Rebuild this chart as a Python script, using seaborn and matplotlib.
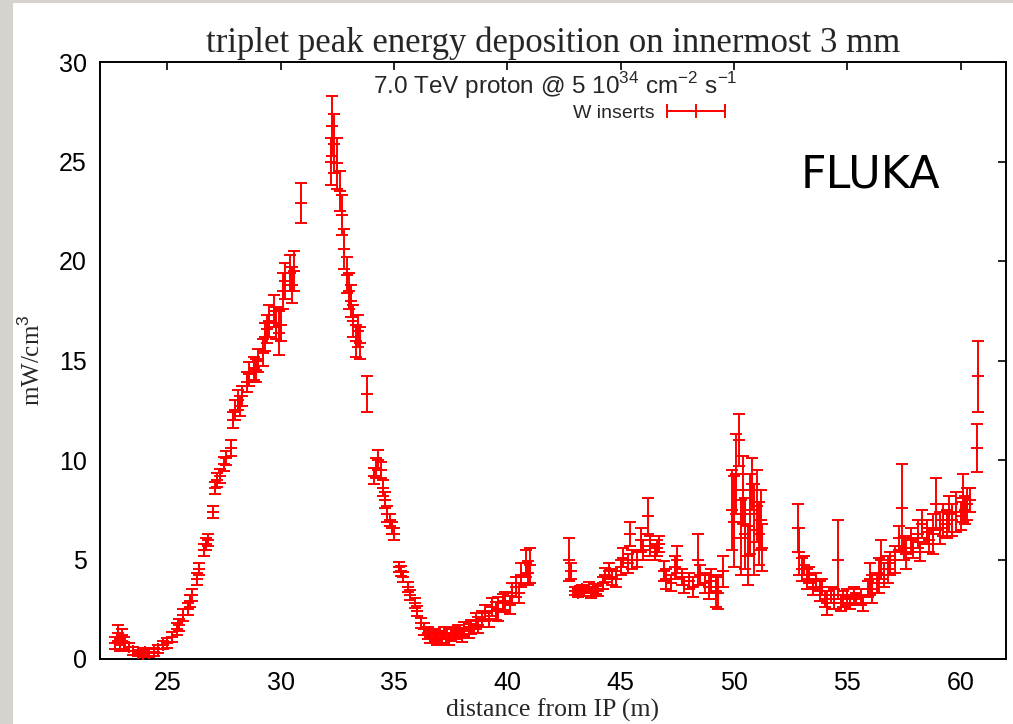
import numpy as np
import pandas as pd
import matplotlib
matplotlib.use("Agg")
import matplotlib.pyplot as plt
from matplotlib.lines import Line2D
from matplotlib.patches import Rectangle
import seaborn as sns

# ---------------- data ----------------
seg1_x = [22.7, 22.8, 22.9, 23.0, 23.1, 23.3, 23.5, 23.7, 23.9, 24.0, 24.2, 24.4, 24.6, 24.8,
          25.0, 25.2, 25.4, 25.5, 25.7, 25.9, 26.0, 26.1, 26.3, 26.4, 26.6, 26.7, 26.8, 27.0,
          27.1, 27.2, 27.3, 27.5, 27.6, 27.8, 27.9, 28.0, 28.1, 28.2, 28.3, 28.5, 28.6, 28.8,
          28.9, 29.0, 29.2, 29.3, 29.4, 29.5, 29.7, 29.8, 29.9, 30.0, 30.1, 30.2, 30.4, 30.5,
          30.6, 30.9,
          32.2, 32.25, 32.35, 32.5, 32.6, 32.7, 32.8, 32.9, 33.0, 33.1, 33.2, 33.3, 33.4, 33.5,
          33.8, 34.1, 34.2, 34.3, 34.4, 34.5, 34.6, 34.7, 34.8, 34.9, 35.0, 35.2, 35.3, 35.4,
          35.6, 35.7, 35.9, 36.0, 36.2, 36.3, 36.5, 36.6, 36.8, 36.9, 37.1, 37.2, 37.4, 37.5,
          37.7, 37.8, 38.0, 38.1, 38.3, 38.4, 38.6, 38.7, 38.9, 39.0, 39.2, 39.3, 39.5, 39.6,
          39.8, 39.9, 40.1, 40.2, 40.4, 40.5, 40.6, 40.8, 40.9, 41.0]
seg1_y = [0.8, 1.3, 0.7, 1.2, 0.8, 0.6, 0.4, 0.3, 0.25, 0.35, 0.3, 0.35, 0.5, 0.7,
          0.8, 1.1, 1.5, 1.7, 2.2, 2.5, 2.9, 3.2, 4.0, 4.5, 5.5, 5.8, 6.0, 7.4,
          8.6, 9.0, 9.2, 9.8, 10.1, 10.6, 12.0, 12.5, 13.0, 12.7, 13.2, 13.9, 14.3, 14.6,
          14.5, 15.0, 15.4, 16.2, 16.6, 17.0, 17.5, 16.9, 16.4, 16.8, 18.5, 19.0, 19.4, 18.8,
          19.5, 22.9,
          25.0, 26.8, 25.9, 24.9, 23.5, 22.3, 20.6, 19.3, 18.5, 18.0, 17.0, 16.0, 16.5, 15.9,
          13.3, 9.2, 9.6, 10.0, 9.5, 8.6, 8.0, 7.3, 7.0, 6.6, 6.3, 4.6, 4.4, 4.1,
          3.6, 3.2, 2.8, 2.4, 1.8, 1.5, 1.3, 1.1, 1.2, 1.0, 1.1, 1.3, 1.0, 1.2,
          1.3, 1.4, 1.2, 1.5, 1.4, 1.6, 1.9, 1.7, 2.0, 2.3, 2.0, 2.6, 2.4, 2.5,
          2.8, 2.9, 2.7, 3.3, 3.6, 3.3, 4.2, 4.8, 4.3, 4.7]
seg1_err = [0.3, 0.4, 0.3, 0.3, 0.3, 0.2, 0.2, 0.15, 0.15, 0.2, 0.2, 0.2, 0.2, 0.2,
            0.25, 0.25, 0.3, 0.3, 0.3, 0.3, 0.3, 0.3, 0.3, 0.3, 0.3, 0.3, 0.3, 0.3,
            0.3, 0.35, 0.35, 0.35, 0.35, 0.4, 0.4, 0.5, 0.5, 0.5, 0.5, 0.5, 0.6, 0.6,
            0.6, 0.6, 0.7, 0.7, 0.7, 0.8, 0.8, 0.8, 1.1, 0.8, 0.9, 0.9, 0.9, 0.9,
            1.0, 1.0,
            1.2, 1.5, 1.5, 1.3, 1.0, 1.0, 1.0, 0.9, 0.9, 0.8, 0.8, 0.8, 0.8, 0.8,
            0.9, 0.4, 0.5, 0.5, 0.4, 0.4, 0.4, 0.4, 0.3, 0.3, 0.3, 0.25, 0.25, 0.25,
            0.25, 0.25, 0.25, 0.25, 0.25, 0.3, 0.3, 0.3, 0.3, 0.3, 0.3, 0.3, 0.3, 0.3,
            0.3, 0.3, 0.35, 0.35, 0.35, 0.35, 0.4, 0.4, 0.4, 0.4, 0.4, 0.45, 0.45, 0.6,
            0.45, 0.45, 0.45, 0.5, 0.5, 0.5, 0.6, 0.7, 0.6, 0.9]

seg2_x = [42.7, 42.8, 43.0, 43.1, 43.3, 43.4, 43.6, 43.7, 43.9, 44.0, 44.2, 44.3, 44.5, 44.6,
          44.8, 45.0, 45.1, 45.3, 45.4, 45.5, 45.7, 45.9, 46.0, 46.2, 46.3, 46.5, 46.6, 46.7,
          46.9, 47.0, 47.2, 47.4, 47.5, 47.7, 47.8, 48.0, 48.2, 48.4, 48.5, 48.7, 48.9, 49.0,
          49.2, 49.3, 49.5, 49.9, 50.0, 50.1, 50.2, 50.3, 50.4, 50.5, 50.6, 50.7, 50.8, 50.9,
          51.0, 51.1, 51.2, 51.25]
seg2_y = [5.0, 4.4, 3.4, 3.3, 3.5, 3.4, 3.6, 3.3, 3.5, 3.4, 3.8, 4.2, 4.4, 4.1,
          4.0, 4.6, 5.1, 4.8, 6.3, 5.0, 5.0, 6.0, 5.5, 7.2, 5.7, 5.4, 5.6, 5.8,
          4.4, 4.0, 3.8, 4.6, 5.0, 4.1, 3.7, 3.9, 3.6, 5.0, 4.2, 3.8, 3.6, 3.9,
          3.4, 3.3, 4.4, 7.5, 6.9, 9.3, 11.0, 6.1, 8.5, 6.3, 5.2, 7.3, 8.8, 6.5,
          7.7, 6.3, 7.0, 5.6]
seg2_err = [1.1, 0.4, 0.2, 0.2, 0.2, 0.25, 0.25, 0.25, 0.25, 0.25, 0.3, 0.35, 0.4, 0.4,
            0.4, 0.4, 0.5, 0.5, 0.6, 0.5, 0.4, 0.6, 0.5, 0.9, 0.5, 0.4, 0.4, 0.4,
            0.5, 0.5, 0.4, 0.6, 0.7, 0.4, 0.4, 0.4, 0.5, 1.3, 0.5, 0.5, 0.6, 0.6,
            0.8, 0.8, 0.8, 2.0, 2.3, 2.0, 1.3, 1.9, 1.7, 1.8, 1.5, 2.0, 1.3, 2.3,
            1.8, 1.6, 1.5, 1.2]

seg3_x = [52.8, 52.85, 53.0, 53.1, 53.2, 53.3, 53.5, 53.6, 53.8, 53.9, 54.0, 54.1, 54.3, 54.4,
          54.6, 54.7, 54.8, 55.0, 55.1, 55.3, 55.4, 55.6, 55.7, 55.9, 56.0, 56.1, 56.3, 56.4,
          56.5, 56.6, 56.8, 56.9, 57.1, 57.3, 57.4, 57.5, 57.6, 57.8, 57.9, 58.1, 58.2, 58.3,
          58.5, 58.6, 58.8, 58.9, 59.1, 59.2, 59.4, 59.5, 59.6, 59.8, 60.0, 60.1, 60.2, 60.3,
          60.4, 60.7, 60.75]
seg3_y = [6.6, 5.4, 4.5, 4.7, 4.0, 4.2, 3.6, 3.9, 3.4, 3.6, 3.0, 2.8, 3.2, 3.0,
          5.0, 2.8, 3.0, 3.1, 2.8, 3.2, 3.0, 3.1, 2.8, 3.5, 4.0, 3.5, 3.8, 4.2,
          5.0, 4.2, 4.5, 4.8, 5.0, 6.1, 7.6, 5.6, 5.3, 6.0, 5.6, 6.3, 5.4, 6.8,
          6.4, 6.0, 6.3, 7.8, 6.6, 7.0, 6.8, 7.3, 7.0, 7.4, 7.2, 8.1, 7.5, 7.8,
          8.0, 10.6, 14.2]
seg3_err = [1.2, 1.2, 0.6, 0.5, 0.5, 0.4, 0.4, 0.4, 0.5, 0.4, 0.4, 0.6, 0.4, 0.5,
            2.0, 0.4, 0.4, 0.4, 0.3, 0.4, 0.3, 0.4, 0.4, 0.4, 0.8, 0.7, 0.5, 0.9,
            1.0, 0.6, 0.7, 0.6, 0.7, 0.6, 2.2, 0.6, 0.8, 0.6, 0.5, 0.7, 0.5, 0.7,
            0.6, 0.6, 1.0, 1.3, 0.8, 0.8, 0.7, 0.9, 0.8, 1.0, 0.7, 1.2, 0.7, 0.8,
            0.6, 1.2, 1.8]

x_ticks = [25, 30, 35, 40, 45, 50, 55, 60]
y_ticks = [0, 5, 10, 15, 20, 25, 30]

df = pd.DataFrame({
    "x": seg1_x + seg2_x + seg3_x,
    "y": seg1_y + seg2_y + seg3_y,
    "err": seg1_err + seg2_err + seg3_err,
})

# ---------------- style ----------------
sns.set_style("white")
plt.rcParams["font.family"] = ["Liberation Sans", "DejaVu Sans"]
plt.rcParams["mathtext.fontset"] = "custom"
plt.rcParams["mathtext.rm"] = "Liberation Sans"

RED = "#ff0000"
fig = plt.figure(figsize=(10.13, 7.24), dpi=100)
fig.patch.set_facecolor("white")
# slide background strips (left and top)
fig.add_artist(Rectangle((0, 0), 13 / 1013, 1, transform=fig.transFigure,
                         facecolor="#d6d3cf", edgecolor="none", zorder=0))
fig.add_artist(Rectangle((0, 1 - 3 / 724), 1, 3 / 724, transform=fig.transFigure,
                         facecolor="#d6d3cf", edgecolor="none", zorder=0))

ax = fig.add_axes([99.5 / 1013, 65 / 724, 906.5 / 1013, 597 / 724])

ax.errorbar(df["x"], df["y"], yerr=df["err"], fmt="none", ecolor=RED,
            elinewidth=1.4, capsize=4, capthick=1.4, zorder=3)
sns.scatterplot(data=df, x="x", y="y", marker="+", color=RED, s=75,
                linewidth=1.4, ax=ax, zorder=4, legend=False)

ax.set_xlim(22, 62)
ax.set_ylim(0, 30)
ax.set_xticks(x_ticks)
ax.set_yticks(y_ticks)
ax.tick_params(direction="in", length=6, width=1.2, top=True, right=True,
               labelsize=18, pad=9, colors="black")
for sp in ax.spines.values():
    sp.set_linewidth(1.4)
    sp.set_color("black")
    sp.set_visible(True)

ax.set_xlabel("distance from IP (m)", family="Liberation Serif", fontsize=18.5, labelpad=2)
ax.set_ylabel("mW/cm$^3$", family="Liberation Serif", fontsize=18, labelpad=10)
ax.set_title("triplet peak energy deposition on innermost 3 mm",
             family="Liberation Serif", fontsize=25, pad=7)

# key
ax.text(0.5025, 0.961, "7.0 TeV proton @ 5 10$^{34}$ cm$^{-2}$ s$^{-1}$",
        transform=ax.transAxes, ha="center", va="center", fontsize=17.5)
handle = Line2D([], [], color=RED, lw=1.4, marker="|", markersize=10, markeredgewidth=1.4)
leg = ax.legend([handle], ["W inserts"], loc="center right", bbox_to_anchor=(0.697, 0.914),
                frameon=False, markerfirst=False, numpoints=3, handlelength=3.6,
                fontsize=14, handletextpad=0.35, borderaxespad=0, borderpad=0)

ax.text(0.927, 0.811, "FLUKA", transform=ax.transAxes, ha="right", va="center",
        fontsize=32, family="DejaVu Sans", color="black")

fig.savefig("out.png", dpi=100)
